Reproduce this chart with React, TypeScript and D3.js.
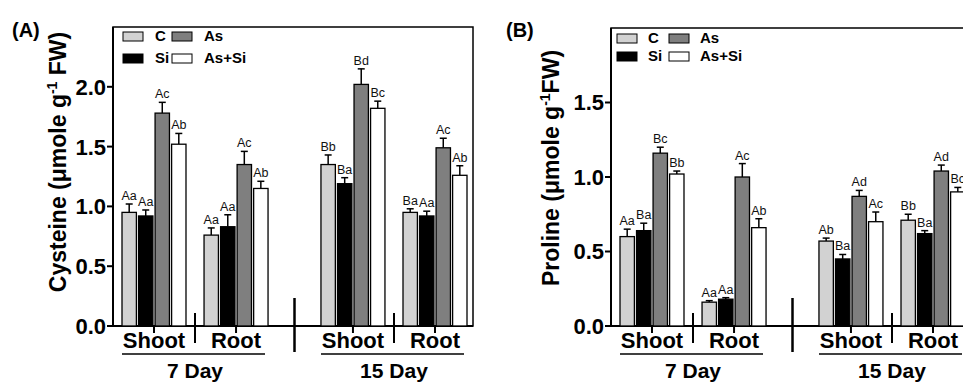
import * as d3 from 'd3';

const series = ['C', 'Si', 'As', 'As+Si'];
const days = ['7 Day', '15 Day'];
const tissues = ['Shoot', 'Root'];
// groups in order: 7 Day Shoot, 7 Day Root, 15 Day Shoot, 15 Day Root

const cysteineC = [0.95, 0.76, 1.35, 0.95];
const cysteineSi = [0.92, 0.83, 1.19, 0.92];
const cysteineAs = [1.78, 1.35, 2.02, 1.49];
const cysteineAsSi = [1.52, 1.15, 1.82, 1.26];
const cysteineCErr = [0.07, 0.06, 0.08, 0.03];
const cysteineSiErr = [0.05, 0.1, 0.05, 0.04];
const cysteineAsErr = [0.09, 0.11, 0.13, 0.08];
const cysteineAsSiErr = [0.09, 0.06, 0.06, 0.08];
const cysteineCLetters = ['Aa', 'Aa', 'Bb', 'Ba'];
const cysteineSiLetters = ['Aa', 'Aa', 'Ba', 'Aa'];
const cysteineAsLetters = ['Ac', 'Ac', 'Bd', 'Ac'];
const cysteineAsSiLetters = ['Ab', 'Ab', 'Bc', 'Ab'];
const cysteineTicks = [0, 0.5, 1.0, 1.5, 2.0];

const prolineC = [0.6, 0.16, 0.57, 0.71];
const prolineSi = [0.64, 0.18, 0.45, 0.62];
const prolineAs = [1.16, 1.0, 0.87, 1.04];
const prolineAsSi = [1.02, 0.66, 0.7, 0.9];
const prolineCErr = [0.05, 0.01, 0.02, 0.04];
const prolineSiErr = [0.05, 0.01, 0.03, 0.02];
const prolineAsErr = [0.04, 0.09, 0.04, 0.04];
const prolineAsSiErr = [0.02, 0.06, 0.065, 0.03];
const prolineCLetters = ['Aa', 'Aa', 'Ab', 'Bb'];
const prolineSiLetters = ['Ba', 'Aa', 'Ba', 'Ba'];
const prolineAsLetters = ['Bc', 'Ac', 'Ad', 'Ad'];
const prolineAsSiLetters = ['Bb', 'Ab', 'Ac', 'Bc'];
const prolineTicks = [0, 0.5, 1.0, 1.5];

const fills: Record<string, string> = {
  C: '#d2d2d2',
  Si: '#000000',
  As: '#7f7f7f',
  'As+Si': '#ffffff',
};

const FONT = '"Liberation Sans", Arial, sans-serif';

interface LegendCfg {
  dx: number;
  y: number;
  rowGap: number;
  colGap: number;
  textDx: number;
}

interface PanelProps {
  left: number;
  top: number;
  values: number[][];
  errors: number[][];
  letters: string[][];
  yMax: number;
  ticks: number[];
  tag: string;
  tagX: number;
  titleMain: string;
  titleTail: string;
  titleX: number;
  titleY: number;
  legend: LegendCfg;
}

function Panel({
  left, top, values, errors, letters, yMax, ticks, tag, tagX,
  titleMain, titleTail, titleX, titleY, legend,
}: PanelProps) {
  const width = 360;
  const base = 326;

  const x0 = d3.scaleBand().domain(days).range([left + 9, left + 354]).paddingInner(0.266);
  const x1 = d3.scaleBand().domain(tissues).range([0, x0.bandwidth()]).paddingInner(0.22);
  const x2 = d3.scaleBand().domain(series).range([0, x1.bandwidth()]).paddingInner(0.13);
  const y = d3.scaleLinear().domain([0, yMax]).range([base, top]);

  const groups = days.flatMap((d) => tissues.map((t) => ({ day: d, tissue: t })));
  const bw = x2.bandwidth();

  return (
    <g fontFamily={FONT}>
      <text x={tagX} y={37} fontSize={20} fontWeight="bold">{tag}</text>

      {/* frame */}
      <rect x={left} y={top} width={width} height={base - top} fill="none" stroke="#000" strokeWidth={1.5} />
      <line x1={left} x2={left} y1={top} y2={base} stroke="#000" strokeWidth={2} />
      <line x1={left} x2={left + width} y1={base} y2={base} stroke="#000" strokeWidth={2} />

      {/* y axis */}
      {ticks.map((t) => (
        <g key={t}>
          <line x1={left - 6} x2={left} y1={y(t)} y2={y(t)} stroke="#000" strokeWidth={2} />
          <text x={left - 7} y={y(t)} dy="0.36em" textAnchor="end" fontSize={22} fontWeight="bold">
            {t.toFixed(1)}
          </text>
        </g>
      ))}
      <text
        transform={`translate(${titleX},${titleY}) rotate(-90)`}
        textAnchor="middle"
        dy="0.35em"
        fontSize={23}
        fontWeight="bold"
      >
        {titleMain}
        <tspan fontSize={14} dy={-9}>-1</tspan>
        <tspan dy={9}>{titleTail}</tspan>
      </text>

      {/* bars */}
      {groups.map((g, gi) => {
        const gx = (x0(g.day) ?? 0) + (x1(g.tissue) ?? 0);
        return (
          <g key={gi}>
            {series.map((s, si) => {
              const v = values[si][gi];
              const e = errors[si][gi];
              const bx = gx + (x2(s) ?? 0);
              const cx = bx + bw / 2;
              return (
                <g key={s}>
                  <line x1={cx} x2={cx} y1={y(v)} y2={y(v + e)} stroke="#000" strokeWidth={1.5} />
                  <line x1={cx - 3.5} x2={cx + 3.5} y1={y(v + e)} y2={y(v + e)} stroke="#000" strokeWidth={1.5} />
                  <rect x={bx} y={y(v)} width={bw} height={base - y(v)} fill={fills[s]} stroke="#000" strokeWidth={1.3} />
                  <text x={cx} y={y(v + e) - 4} textAnchor="middle" fontSize={12.5} fill="#111">
                    {letters[si][gi]}
                  </text>
                </g>
              );
            })}
            <line x1={gx + x1.bandwidth() / 2} x2={gx + x1.bandwidth() / 2} y1={base} y2={base + 7} stroke="#000" strokeWidth={2} />
            <text x={gx + x1.bandwidth() / 2} y={348} textAnchor="middle" fontSize={22} fontWeight="bold">
              {g.tissue}
            </text>
          </g>
        );
      })}

      {/* dividers and day labels */}
      {days.map((d, di) => {
        const dx = x0(d) ?? 0;
        const mid = dx + ((x1('Shoot') ?? 0) + x1.bandwidth() + (x1('Root') ?? 0)) / 2;
        return (
          <g key={d}>
            <line x1={mid} x2={mid} y1={313} y2={343} stroke="#000" strokeWidth={2} />
            <line x1={dx} x2={dx + x0.bandwidth() - 3} y1={354} y2={354} stroke="#000" strokeWidth={1.5} />
            <text x={dx + x0.bandwidth() / 2} y={378} textAnchor="middle" fontSize={21} fontWeight="bold">
              {d}
            </text>
            {di === 0 && (
              <line
                x1={dx + x0.bandwidth() + (x0.step() - x0.bandwidth()) / 2}
                x2={dx + x0.bandwidth() + (x0.step() - x0.bandwidth()) / 2}
                y1={298}
                y2={352}
                stroke="#000"
                strokeWidth={2.5}
              />
            )}
          </g>
        );
      })}

      {/* legend */}
      {series.map((s, i) => {
        const col = Math.floor(i / 2);
        const row = i % 2;
        const lx = left + legend.dx + col * legend.colGap;
        const ly = legend.y + row * legend.rowGap;
        return (
          <g key={s}>
            <rect x={lx} y={ly} width={20} height={9} fill={fills[s]} stroke="#000" strokeWidth={1} />
            <text x={lx + legend.textDx} y={ly + 9} fontSize={15} fontWeight="bold">{s}</text>
          </g>
        );
      })}
    </g>
  );
}

export default function App() {
  return (
    <svg
      width={963}
      height={385}
      viewBox="0 0 963 385"
      style={{ position: 'absolute', left: 0, top: 0, background: '#fff' }}
    >
      <Panel
        left={113}
        top={27}
        values={[cysteineC, cysteineSi, cysteineAs, cysteineAsSi]}
        errors={[cysteineCErr, cysteineSiErr, cysteineAsErr, cysteineAsSiErr]}
        letters={[cysteineCLetters, cysteineSiLetters, cysteineAsLetters, cysteineAsSiLetters]}
        yMax={2.5}
        ticks={cysteineTicks}
        tag="(A)"
        tagX={12}
        titleMain="Cysteine (μmole g"
        titleTail=" FW)"
        titleX={58}
        titleY={162}
        legend={{ dx: 10, y: 32, rowGap: 22, colGap: 49, textDx: 32 }}
      />
      <Panel
        left={611}
        top={28}
        values={[prolineC, prolineSi, prolineAs, prolineAsSi]}
        errors={[prolineCErr, prolineSiErr, prolineAsErr, prolineAsSiErr]}
        letters={[prolineCLetters, prolineSiLetters, prolineAsLetters, prolineAsSiLetters]}
        yMax={2.0}
        ticks={prolineTicks}
        tag="(B)"
        tagX={506}
        titleMain="Proline (μmole g"
        titleTail="FW)"
        titleX={551}
        titleY={168}
        legend={{ dx: 6, y: 34, rowGap: 18, colGap: 52, textDx: 31 }}
      />
    </svg>
  );
}
